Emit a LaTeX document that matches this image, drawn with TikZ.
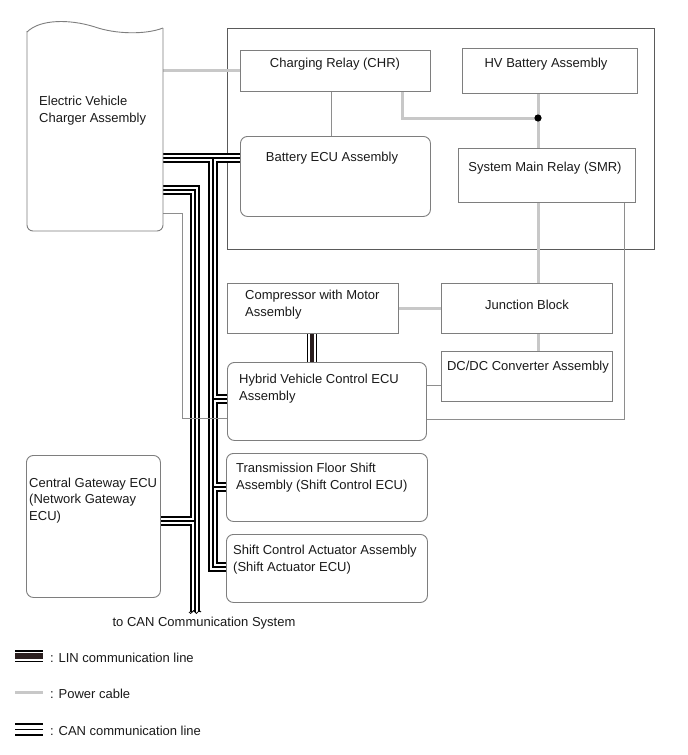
\documentclass[tikz,border=0pt]{standalone}
\usepackage{fontspec}
\setmainfont{Liberation Sans}
\definecolor{boxc}{HTML}{7E7E7E}
\definecolor{bigc}{HTML}{5A5A5A}
\definecolor{txtc}{HTML}{1A1A1A}
\definecolor{powc}{HTML}{C8C8C8}
\definecolor{wirec}{HTML}{8E8E8E}
\definecolor{lindark}{HTML}{2A1E1E}
\pgfdeclarelayer{bg}
\pgfsetlayers{bg,main}
\tikzset{
  box/.style={draw=boxc, line width=0.9pt, inner sep=0pt, anchor=north west},
  rbox/.style={box, rounded corners=7pt},
  txt/.style={text=txtc, font=\fontsize{13}{16.5}\selectfont, inner sep=0pt, align=left},
  power/.style={draw=powc, line width=3pt},
  wire/.style={draw=wirec, line width=0.9pt},
  canA/.style={draw=black, line width=10.6pt, line join=miter},
  canB/.style={draw=white, line width=5.6pt, line join=miter},
  canC/.style={draw=black, line width=1.2pt, line join=miter},
  linA/.style={draw=black, line width=10pt},
  linB/.style={draw=white, line width=7.4pt},
  linC/.style={draw=lindark, line width=4.4pt},
}
\newcommand\mycanpaths[1]{%
  \draw[#1] (canT -| ev.east) -- (canT -| becu.west);
  \draw[#1] (canT) -- (canE) -- (canE -| sca.west);
  \draw[#1] (canH) -- (canH -| hvecu.west);
  \draw[#1] (canS) -- (canS -| tfs.west);
  \draw[#1] (canB -| ev.east) -- (canB) -- (canBE);
  \draw[#1] (canG -| cgw.east) -- (canG);
}
\begin{document}
\begin{tikzpicture}[x=1pt,y=-1pt]
\useasboundingbox (0,0) rectangle (688,755);

% boxes
\node[box, minimum width=190pt, minimum height=41pt] (chr) at (240,50) {};
\node[box, minimum width=175pt, minimum height=45pt] (hvb) at (462,48) {};
\node[rbox, minimum width=190pt, minimum height=80pt] (becu) at (240,136) {};
\node[box, minimum width=177pt, minimum height=54pt] (smr) at (458,148) {};
\node[box, minimum width=171pt, minimum height=50pt] (comp) at (227,283) {};
\node[box, minimum width=171pt, minimum height=50pt] (jb) at (441,283) {};
\node[box, minimum width=171pt, minimum height=50pt] (dcdc) at (441,351) {};
\node[rbox, minimum width=199pt, minimum height=78pt] (hvecu) at (227,362) {};
\node[rbox, minimum width=201pt, minimum height=68pt] (tfs) at (226,453) {};
\node[rbox, minimum width=201pt, minimum height=68pt] (sca) at (226,534) {};
\node[rbox, minimum width=134pt, minimum height=142pt] (cgw) at (26,455) {};
\node[inner sep=0pt, minimum width=136pt, minimum height=203pt, anchor=north west] (ev) at (27,28) {};

% charger outline
\draw[draw=boxc, line width=0.9pt, rounded corners=6pt] (163,28) -- (163,231) -- (27,231) -- (27,31);
\draw[draw=boxc, line width=0.9pt] (27,32) .. controls (40,19) and (70,19) .. (95,27) .. controls (115,34) and (145,35) .. (163,28);

% coordinates
\coordinate (dot) at (538,118);
\coordinate (canT) at (213,158);
\coordinate (canE) at (213,567);
\coordinate (canH) at (213,399);
\coordinate (canS) at (213,487);
\coordinate (canB) at (195,190);
\coordinate (canBE) at (195,612);
\coordinate (canG) at (195,521);
\coordinate (wbend) at (182,418);

\begin{pgfonlayer}{bg}
  \fill[white] (0,0) rectangle (688,755);
  \node[box, draw=bigc, minimum width=427pt, minimum height=221pt] (big) at (227,28) {};
  % power cables
  \draw[power] (ev.east |- chr.west) -- (chr.west);
  \draw[power] ([xshift=-28pt]chr.south east) |- (dot);
  \draw[power] (hvb.south -| dot) -- (smr.north -| dot);
  \draw[power] (smr.south -| dot) -- (jb.north -| dot);
  \draw[power] (jb.south -| dot) -- (dcdc.north -| dot);
  \draw[power] (comp.east) -- (jb.west);
  % thin wires
  \draw[wire] ([xshift=-4pt]chr.south) -- ([xshift=-4pt]becu.north);
  \draw[wire] ([xshift=-11pt]smr.south east) |- ([yshift=21pt]hvecu.south east);
  \draw[wire] ([yshift=-9pt]dcdc.west) -- ([yshift=-9pt]dcdc.west -| hvecu.east);
  % CAN buses
  \mycanpaths{canA}
  \mycanpaths{canB}
  \mycanpaths{canC}
  \draw[line width=0.8pt] (189,612) .. controls (191.5,617) and (193,607) .. (195,612) .. controls (197,617) and (198.5,607) .. (201,612);
  % LIN
  \draw[linA] ([xshift=85pt]comp.south west) -- ([xshift=85pt]comp.south west |- hvecu.north);
  \draw[linB] ([xshift=85pt]comp.south west) -- ([xshift=85pt]comp.south west |- hvecu.north);
  \draw[linC] ([xshift=85pt]comp.south west) -- ([xshift=85pt]comp.south west |- hvecu.north);
  % wire from charger to HV ECU
  \draw[wire] ([yshift=18pt]ev.south east) -| (wbend) -- (wbend -| hvecu.west);
\end{pgfonlayer}

\fill[black] (dot) circle[radius=3.6pt];

% texts
\node[txt, anchor=west] (evt) at (39,110.5) {Electric Vehicle\\Charger Assembly};
\node[txt] (chrt) at (335,64.5) {Charging Relay (CHR)};
\node[txt] (hvbt) at (546,64.5) {HV Battery Assembly};
\node[txt] (becut) at (332,158.5) {Battery ECU Assembly};
\node[txt] (smrt) at (545,168.5) {System Main Relay (SMR)};
\node[txt, anchor=west] (compt) at (245,304.5) {Compressor with Motor\\Assembly};
\node[txt] (jbt) at (527,304.5) {Junction Block};
\node[txt] (dcdct) at (528,367.5) {DC/DC Converter Assembly};
\node[txt, anchor=west] (hvecut) at (239,388.5) {Hybrid Vehicle Control ECU\\Assembly};
\node[txt, anchor=west] (tfst) at (236,477.5) {Transmission Floor Shift\\Assembly (Shift Control ECU)};
\node[txt, anchor=west] (scat) at (233,559.5) {Shift Control Actuator Assembly\\(Shift Actuator ECU)};
\node[txt, anchor=west] (cgwt) at (29,500.5) {Central Gateway ECU\\(Network Gateway\\ECU)};
\node[txt] (cant) at (204,623.5) {to CAN Communication System};

% legend
\coordinate (l1a) at (15,656); \coordinate (l1b) at (43,656);
\coordinate (l2a) at (15,692); \coordinate (l2b) at (43,692);
\coordinate (l3a) at (15,729.5); \coordinate (l3b) at (43,729.5);
\draw[draw=black, line width=12pt] (l1a) -- (l1b);
\draw[draw=white, line width=9pt] (l1a) -- (l1b);
\draw[draw=lindark, line width=5.5pt] (l1a) -- (l1b);
\draw[power] (l2a) -- (l2b);
\draw[draw=black, line width=13.6pt] (l3a) -- (l3b);
\draw[draw=white, line width=9.2pt] (l3a) -- (l3b);
\draw[draw=black, line width=1.6pt] (l3a) -- (l3b);
\node[txt, anchor=west] (lg1) at (50,658) {: LIN communication line};
\node[txt, anchor=west] (lg2) at (50,694) {: Power cable};
\node[txt, anchor=west] (lg3) at (50,731) {: CAN communication line};
\end{tikzpicture}
\end{document}
